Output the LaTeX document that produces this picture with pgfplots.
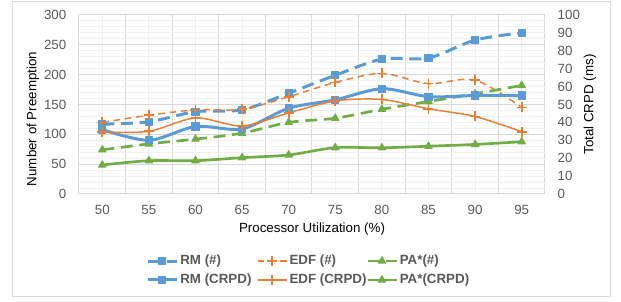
\documentclass[border=0pt]{standalone}
\usepackage{fontspec}
\setmainfont{Liberation Sans}
\usepackage{pgfplots}
\pgfplotsset{compat=1.18}
\definecolor{cblue}{HTML}{5B9BD5}
\definecolor{corange}{HTML}{ED7D31}
\definecolor{cgreen}{HTML}{70AD47}
\definecolor{tgray}{HTML}{595959}
\definecolor{gdark}{HTML}{D9D9D9}
\definecolor{glight}{HTML}{F0F0F0}
\pgfplotsset{
  rmh/.style={cblue, line width=2.25pt, dash pattern=on 9pt off 5pt, smooth, line join=round,
    mark=square*, mark size=2.7pt, mark options={solid, line width=0.75pt}},
  edfh/.style={corange, line width=1.1pt, dash pattern=on 5pt off 3.5pt, smooth, line join=round,
    mark=+, mark size=3.75pt, mark options={solid, line width=1.3pt}},
  pah/.style={cgreen, line width=2pt, dash pattern=on 9pt off 5pt, smooth, line join=round,
    mark=triangle*, mark size=3.2pt, mark options={solid, line width=0.75pt}},
  rmc/.style={cblue, line width=2.25pt, solid, smooth, line join=round,
    mark=square*, mark size=2.7pt, mark options={solid, line width=0.75pt}},
  edfc/.style={corange, line width=1.1pt, solid, smooth, line join=round,
    mark=+, mark size=3.75pt, mark options={solid, line width=1.3pt}},
  pac/.style={cgreen, line width=2pt, solid, smooth, line join=round,
    mark=triangle*, mark size=3.2pt, mark options={solid, line width=0.75pt}},
  common/.style={
    width=349.5pt, height=134.25pt, scale only axis,
    xmin=47.5, xmax=97.5,
    major tick length=0pt, minor tick length=0pt,
    tick label style={text=tgray},
    /pgf/number format/assume math mode=true,
    label style={text=tgray},
    legend image code/.code={
      \draw[#1] (0pt,0pt) -- (21.75pt,0pt);
      \draw[#1, only marks] plot coordinates {(10.875pt,0pt)};
    },
  },
}
\begin{document}
\begin{tikzpicture}
\path[use as bounding box] (-59.25pt,-81pt) rectangle (406.5pt,145.5pt);
\draw[gdark, line width=0.75pt] (-49.7pt,-77pt) rectangle (398.25pt,144.2pt);
\begin{axis}[common,
  ymin=0, ymax=300,
  xtick={50,55,...,95},
  minor xtick={47.5,52.5,...,97.5},
  ytick={0,50,...,300},
  minor y tick num=4,
  xmajorgrids, xminorgrids, ymajorgrids, yminorgrids,
  major x grid style={glight, line width=0.75pt},
  minor x grid style={gdark, line width=0.75pt},
  major y grid style={gdark, line width=0.75pt},
  minor y grid style={glight, line width=0.75pt},
  axis line style={draw=none},
  xticklabel style={yshift=-5pt},
  yticklabel style={xshift=-6pt},
  xlabel={Processor Utilization (\%)},
  ylabel={Number of Preemption},
  every axis x label/.style={at={(axis description cs:0.5,0)}, yshift=-26.25pt, anchor=center},
  every axis y label/.style={at={(axis description cs:0,0.419)}, xshift=-34.5pt, rotate=90, anchor=center},
]
\addplot[rmh] coordinates {(50,117) (55,121) (60,138) (65,141) (70,169) (75,199) (80,226) (85,228) (90,258) (95,270)};
\addplot[edfh] coordinates {(50,120) (55,132) (60,141) (65,142) (70,163) (75,187) (80,202) (85,185) (90,191) (95,145)};
\addplot[pah] coordinates {(50,74) (55,84) (60,92) (65,102) (70,120) (75,127) (80,142) (85,155) (90,168) (95,182)};
\end{axis}
\begin{axis}[common,
  ymin=0, ymax=100,
  axis x line=none,
  axis y line*=right,
  axis line style={draw=none},
  ytick={0,10,...,100},
  yticklabel style={xshift=6pt},
  ylabel={Total CRPD (ms)},
  every axis y label/.style={at={(axis description cs:1,0.5)}, xshift=33.75pt, rotate=90, anchor=center},
  legend columns=3,
  legend cell align=left,
  legend style={draw=none, fill=none, inner sep=0pt, at={(axis description cs:0.144,-0.4274)}, anchor=west,
    font=\bfseries, text=tgray, column sep=0pt, row sep=2.5pt, nodes={inner sep=1.5pt}},
]
\addlegendimage{rmh}\addlegendentry{\makebox[56pt][l]{RM (\#)}}
\addlegendimage{edfh}\addlegendentry{\makebox[56pt][l]{EDF (\#)}}
\addlegendimage{pah}\addlegendentry{\makebox[56pt][l]{PA*(\#)}}
\addplot[rmc] coordinates {(50,36) (55,30) (60,37.7) (65,36.4) (70,47.9) (75,52.6) (80,58.8) (85,54.4) (90,55) (95,55)};
\addlegendentry{\makebox[56pt][l]{RM (CRPD)}}
\addplot[edfc] coordinates {(50,34.6) (55,35) (60,42.5) (65,38) (70,45.3) (75,52) (80,52.8) (85,47.6) (90,43.3) (95,34.8)};
\addlegendentry{\makebox[56pt][l]{EDF (CRPD)}}
\addplot[pac] coordinates {(50,16.2) (55,18.6) (60,18.6) (65,20.3) (70,21.8) (75,25.9) (80,25.8) (85,26.7) (90,27.7) (95,29.2)};
\addlegendentry{\makebox[56pt][l]{PA*(CRPD)}}
\end{axis}
\end{tikzpicture}
\end{document}
